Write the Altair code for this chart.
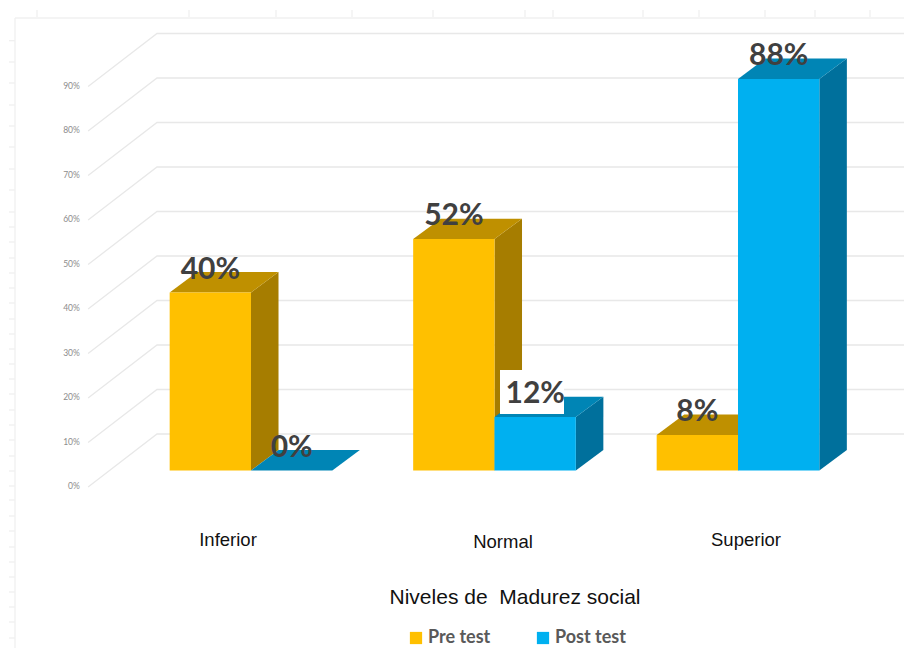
import altair as alt
import pandas as pd

categories = ["Inferior", "Normal", "Superior"]
pre_test = [40, 52, 8]
post_test = [0, 12, 88]
series_names = ["Pre test", "Post test"]
y_ticks = [0, 10, 20, 30, 40, 50, 60, 70, 80, 90]
x_title = "Niveles de\u00a0 Madurez social"

W, H = 896, 640


def ux(px):
    return (px - 251) / 243.5


def uy(px):
    return (470.5 - px) / 4.45


# Chart geometry, expressed in data units (categories on x, percent on y)
BAR_W = 0.334
DX, DY = 0.113, 4.6
WALL_BACK_DX, WALL_DY_BACK, WALL_DY_FRONT = -0.386, 8.2, -3.7
WALL_FRONT_X = -0.669
X_DOM = [ux(8), ux(8 + W)]
Y_DOM = [uy(8 + H), uy(8)]

x_s = alt.Scale(domain=X_DOM, nice=False, zero=False)
y_s = alt.Scale(domain=Y_DOM, nice=False, zero=False)
X = alt.X("x:Q", scale=x_s, axis=None)
Y = alt.Y("y:Q", scale=y_s, axis=None)

color_domain = ["Pre test", "Post test", "pre side", "post side", "pre top", "post top"]
color_range = ["#FFC000", "#00B0F0", "#A67D00", "#00709C", "#BF9000", "#0085B5"]
color_s = alt.Scale(domain=color_domain, range=color_range)

fronts, sides, tops, labels = [], [], [], []
for i, c in enumerate(categories):
    for j, (name, vals, key) in enumerate(
        [("Pre test", pre_test, "pre"), ("Post test", post_test, "post")]
    ):
        v = vals[i]
        x0 = i - BAR_W + j * BAR_W
        x1 = x0 + BAR_W
        bid = f"{c}-{key}"
        fronts.append(dict(x=x0, x2=x1, y=0, y2=v, s=name, category=c))
        sides += [
            dict(x=x1, y=0, y2=v, s=f"{key} side", id=bid),
            dict(x=x1 + DX, y=DY, y2=v + DY, s=f"{key} side", id=bid),
        ]
        tops += [
            dict(y=v, x=x0, x2=x1, s=f"{key} top", id=bid),
            dict(y=v + DY, x=x0 + DX, x2=x1 + DX, s=f"{key} top", id=bid),
        ]
        labels.append(dict(x=(x0 + x1) / 2, y=v + 5.1, t=f"{v}%"))

# walls
wall_rows = []
for t in y_ticks:
    wall_rows += [
        dict(x=WALL_FRONT_X, y=t + WALL_DY_FRONT, id=t),
        dict(x=WALL_BACK_DX, y=t + WALL_DY_BACK, id=t),
        dict(x=X_DOM[1], y=t + WALL_DY_BACK, id=t),
    ]
walls = (
    alt.Chart(pd.DataFrame(wall_rows))
    .mark_line(color="#E8E8E8", strokeWidth=1.3)
    .encode(x=X, y=Y, detail="id:N", order=alt.Order("x:Q"))
)

tick_df = pd.DataFrame(
    [dict(x=WALL_FRONT_X - 0.034, y=t + WALL_DY_FRONT + 0.2, t=f"{t}%") for t in y_ticks]
)
tick_text = (
    alt.Chart(tick_df)
    .mark_text(align="right", baseline="middle", font="Lato", fontSize=8.5, color="#8C8C8C")
    .encode(x=X, y=Y, text="t:N")
)

# faint ruler marks framing the sheet
top_ticks = [37, 189, 276, 352, 433, 525, 553, 643, 699, 765, 815, 870]
left_ticks = [40.7, 62, 83, 105, 126, 147, 169, 190, 212, 227, 242, 258, 273, 288, 303,
              319, 334, 349, 364, 379, 394, 410, 425, 440, 456, 471, 486, 500, 516, 531,
              547, 562, 577, 592, 607, 622, 638]
ruler_rows = [dict(x=ux(p), x2=ux(p), y=uy(10), y2=uy(17)) for p in top_ticks]
ruler_rows += [dict(x=ux(9), x2=ux(15), y=uy(p), y2=uy(p)) for p in left_ticks]
ruler_rows += [dict(x=ux(15), x2=X_DOM[1], y=uy(18), y2=uy(18))]
ruler_rows += [dict(x=ux(15), x2=ux(15), y=uy(18), y2=Y_DOM[0])]
rulers = (
    alt.Chart(pd.DataFrame(ruler_rows))
    .mark_rule(color="#F0F0F0", strokeWidth=1.3)
    .encode(x=X, x2="x2:Q", y=Y, y2="y2:Q")
)

legend = alt.Legend(
    values=series_names, title=None, orient="none", legendX=399, legendY=621,
    direction="horizontal", symbolType="square", symbolSize=150, symbolStrokeWidth=0,
    labelFont="Lato", labelFontWeight="bold", labelFontSize=18, labelColor="#595959",
    labelOffset=3, columnPadding=43, labelLimit=200,
)
Color = alt.Color("s:N", scale=color_s, legend=legend)

side_layer = (
    alt.Chart(pd.DataFrame(sides))
    .mark_area()
    .encode(x=X, y=Y, y2="y2:Q", detail="id:N", color=Color)
)
top_layer = (
    alt.Chart(pd.DataFrame(tops))
    .mark_area(orient="horizontal")
    .encode(y=Y, x=X, x2="x2:Q", detail="id:N", color=Color)
)
front_layer = (
    alt.Chart(pd.DataFrame(fronts))
    .mark_rect()
    .encode(x=X, x2="x2:Q", y=Y, y2="y2:Q", color=Color)
)

# white box behind the 12% label
label_bg = (
    alt.Chart(pd.DataFrame([dict(x=ux(500), x2=ux(564), y=uy(414), y2=uy(370))]))
    .mark_rect(color="white")
    .encode(x=X, x2="x2:Q", y=Y, y2="y2:Q")
)
value_text = (
    alt.Chart(pd.DataFrame(labels))
    .mark_text(align="center", baseline="middle", font="Lato", fontWeight="bold",
               fontSize=30, color="#404040")
    .encode(x=X, y=Y, text="t:N")
)

cat_positions = [ux(228), ux(503), ux(746)]
cat_heights = [uy(540), uy(542), uy(540)]
cat_df = pd.DataFrame(dict(x=cat_positions, y=cat_heights, t=categories))
cat_text = (
    alt.Chart(cat_df)
    .mark_text(align="center", baseline="middle", font="Liberation Sans", fontSize=18.5, color="#111111")
    .encode(x=X, y=Y, text="t:N")
)
title_text = (
    alt.Chart(pd.DataFrame([dict(x=ux(515), y=uy(597.5), t=x_title)]))
    .mark_text(align="center", baseline="middle", font="Liberation Sans", fontSize=21, color="#111111")
    .encode(x=X, y=Y, text="t:N")
)

chart = (
    alt.layer(rulers, walls, tick_text, side_layer, top_layer, front_layer,
              label_bg, value_text, cat_text, title_text)
    .properties(width=W, height=H, padding=0, autosize=alt.AutoSizeParams(type="none"))
    .configure_view(stroke=None)
)
chart.save("out.html", embed_options={"renderer": "svg", "actions": False})
